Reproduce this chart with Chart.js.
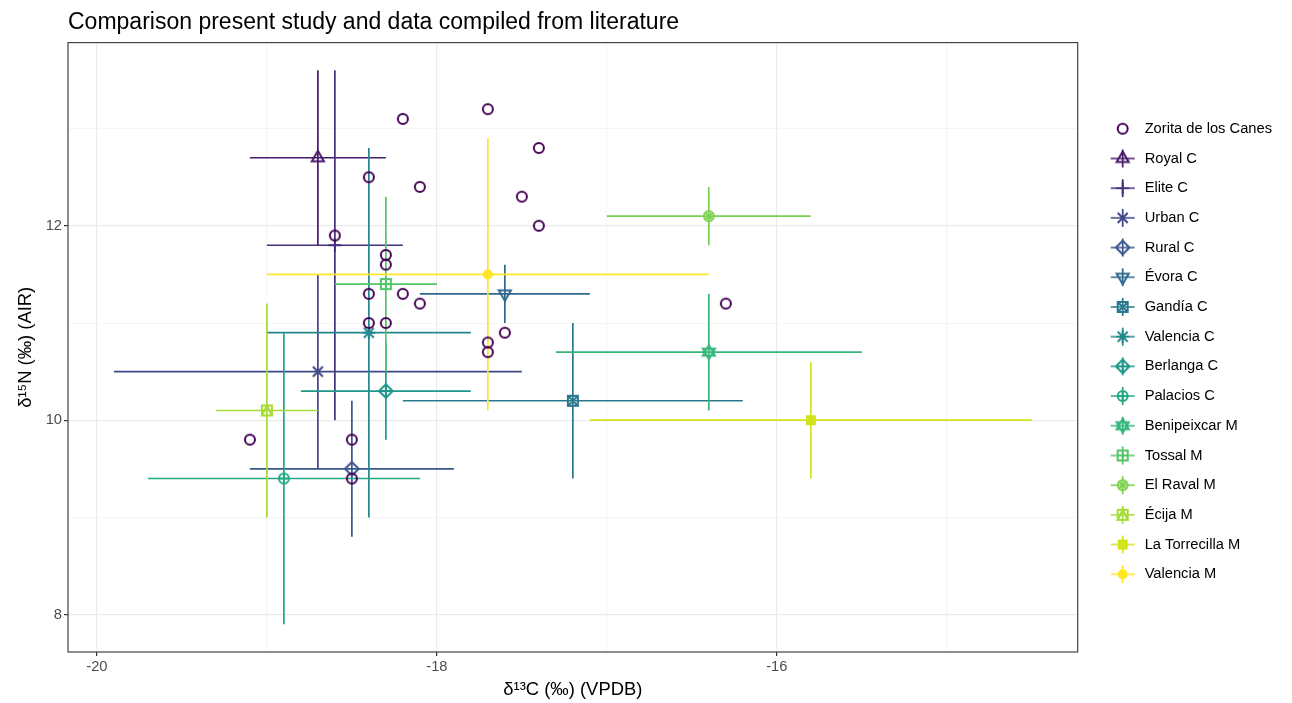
<!DOCTYPE html>
<html>
<head>
<meta charset="utf-8">
<script src="https://cdn.jsdelivr.net/npm/chart.js@4.4.1/dist/chart.umd.min.js"></script>
<style>
	html, body { margin: 0; padding: 0; background: #fff; }
</style>
</head>
<body>
<canvas id="chart-scatter" width="1292" height="703"></canvas>
<script>
// present study
const zoritaX = [-19.1, -18.6, -18.4, -18.2, -18.1, -17.7, -17.4, -17.5, -17.4, -18.3, -18.3,
	-18.4, -18.2, -18.1, -18.4, -18.3, -17.6, -17.7, -17.7, -16.3, -18.5, -18.5];
const zoritaY = [9.8, 11.9, 12.5, 13.1, 12.4, 13.2, 12.8, 12.3, 12.0, 11.7, 11.6,
	11.3, 11.3, 11.2, 11.0, 11.0, 10.9, 10.8, 10.7, 11.2, 9.8, 9.4];

// literature (mean +- sd)
const groupNames = ["Royal C", "Elite C", "Urban C", "Rural C", "Évora C", "Gandía C",
	"Valencia C", "Berlanga C", "Palacios C", "Benipeixcar M", "Tossal M", "El Raval M",
	"Écija M", "La Torrecilla M", "Valencia M"];
const groupX = [-18.7, -18.6, -18.7, -18.5, -17.6, -17.2, -18.4, -18.3, -18.9, -16.4, -18.3, -16.4, -19.0, -15.8, -17.7];
const groupY = [12.7, 11.8, 10.5, 9.5, 11.3, 10.2, 10.9, 10.3, 9.4, 10.7, 11.4, 12.1, 10.1, 10.0, 11.5];
const groupSdX = [0.4, 0.4, 1.2, 0.6, 0.5, 1.0, 0.6, 0.5, 0.8, 0.9, 0.3, 0.6, 0.3, 1.3, 1.3];
const groupSdY = [0.9, 1.8, 1.0, 0.7, 0.3, 0.8, 1.9, 0.5, 1.5, 0.6, 0.9, 0.3, 1.1, 0.6, 1.4];

const xTicks = [-20, -19, -18, -17, -16, -15];
const yTicks = [8, 9, 10, 11, 12, 13];

// viridis(16) and ggplot shapes 1..16
const colors = ["#440154", "#481A6C", "#472F7D", "#414487", "#39568C", "#31688E", "#2A788E", "#23888E",
	"#1F988B", "#22A884", "#35B779", "#54C568", "#7AD151", "#A5DB36", "#D2E21B", "#FDE725"];
const shapes = ["circle", "triangle", "plus", "x", "diamond", "triangleDown", "squareX", "asterisk",
	"diamondPlus", "circlePlus", "star6", "squarePlus", "circleX", "squareTri", "squareFill", "circleFill"];

const FONT = "'Liberation Sans', Arial, sans-serif";

function drawShape(c, shape, cx, cy) {
	const r = 5;
	const line = (x1, y1, x2, y2) => { c.moveTo(x1, y1); c.lineTo(x2, y2); };
	const poly = (pts) => {
		c.moveTo(pts[0][0], pts[0][1]);
		pts.slice(1).forEach((p) => c.lineTo(p[0], p[1]));
		c.closePath();
	};
	const tri = (dir) => {
		const R = 7;
		poly([0, 1, 2].map((k) => {
			const a = (dir > 0 ? -Math.PI / 2 : Math.PI / 2) + (k * 2 * Math.PI) / 3;
			return [cx + R * Math.cos(a), cy + R * Math.sin(a)];
		}));
	};
	const d = 6.8;
	c.beginPath();
	switch (shape) {
		case "circle": c.arc(cx, cy, r, 0, Math.PI * 2); break;
		case "triangle": tri(1); break;
		case "triangleDown": tri(-1); break;
		case "plus": line(cx - 6.5, cy, cx + 6.5, cy); line(cx, cy - 6.5, cx, cy + 6.5); break;
		case "x": line(cx - 5, cy - 5, cx + 5, cy + 5); line(cx - 5, cy + 5, cx + 5, cy - 5); break;
		case "asterisk":
			line(cx - 6.5, cy, cx + 6.5, cy); line(cx, cy - 6.5, cx, cy + 6.5);
			line(cx - 5, cy - 5, cx + 5, cy + 5); line(cx - 5, cy + 5, cx + 5, cy - 5);
			break;
		case "diamond": poly([[cx, cy - d], [cx + d, cy], [cx, cy + d], [cx - d, cy]]); break;
		case "diamondPlus":
			poly([[cx, cy - d], [cx + d, cy], [cx, cy + d], [cx - d, cy]]);
			line(cx - d, cy, cx + d, cy); line(cx, cy - d, cx, cy + d);
			break;
		case "squareX":
			c.rect(cx - r, cy - r, 2 * r, 2 * r);
			line(cx - r, cy - r, cx + r, cy + r); line(cx - r, cy + r, cx + r, cy - r);
			break;
		case "squarePlus":
			c.rect(cx - r, cy - r, 2 * r, 2 * r);
			line(cx - r, cy, cx + r, cy); line(cx, cy - r, cx, cy + r);
			break;
		case "squareTri":
			c.rect(cx - r, cy - r, 2 * r, 2 * r);
			poly([[cx, cy - r], [cx + r, cy + r], [cx - r, cy + r]]);
			break;
		case "circlePlus":
			c.arc(cx, cy, r, 0, Math.PI * 2);
			line(cx - r, cy, cx + r, cy); line(cx, cy - r, cx, cy + r);
			break;
		case "circleX": {
			const k = r * Math.SQRT1_2;
			c.arc(cx, cy, r, 0, Math.PI * 2);
			line(cx - k, cy - k, cx + k, cy + k); line(cx - k, cy + k, cx + k, cy - k);
			break;
		}
		case "star6": tri(1); tri(-1); break;
		case "squareFill": c.rect(cx - r, cy - r, 2 * r, 2 * r); c.fill(); return;
		case "circleFill": c.arc(cx, cy, r, 0, Math.PI * 2); c.fill(); return;
	}
	c.stroke();
}

function makeIcon(shape, color, w, h, dx, bars) {
	const cv = document.createElement("canvas");
	cv.width = w;
	cv.height = h;
	const c = cv.getContext("2d");
	const cx = w / 2 + dx, cy = h / 2;
	c.strokeStyle = color;
	c.fillStyle = color;
	if (bars) {
		c.lineWidth = 1.7;
		c.beginPath();
		c.moveTo(cx - 12, cy); c.lineTo(cx + 12, cy);
		c.moveTo(cx, cy - 9); c.lineTo(cx, cy + 9);
		c.stroke();
	}
	c.lineWidth = 2;
	drawShape(c, shape, cx, cy);
	return cv;
}

const pointIcons = shapes.map((s, i) => makeIcon(s, colors[i], 20, 20, 0, false));
const legendIcons = shapes.map((s, i) => makeIcon(s, colors[i], 42, 20, 7.7, i > 0));

const datasets = [{
	label: "Zorita de los Canes",
	data: zoritaX.map((x, i) => ({ x: x, y: zoritaY[i] })),
	pointStyle: pointIcons[0],
}];
groupNames.forEach((name, i) => {
	datasets.push({
		label: name,
		data: [{ x: groupX[i], y: groupY[i] }],
		pointStyle: pointIcons[i + 1],
	});
});

// mean +- sd bars, drawn under the markers
const errorBars = {
	id: "errorBars",
	beforeDatasetsDraw(chart) {
		const { ctx, scales: { x, y } } = chart;
		ctx.save();
		ctx.lineWidth = 1.7;
		groupNames.forEach((name, i) => {
			const px = x.getPixelForValue(groupX[i]);
			const py = y.getPixelForValue(groupY[i]);
			ctx.strokeStyle = colors[i + 1];
			ctx.beginPath();
			ctx.moveTo(x.getPixelForValue(groupX[i] - groupSdX[i]), py);
			ctx.lineTo(x.getPixelForValue(groupX[i] + groupSdX[i]), py);
			ctx.moveTo(px, y.getPixelForValue(groupY[i] + groupSdY[i]));
			ctx.lineTo(px, y.getPixelForValue(groupY[i] - groupSdY[i]));
			ctx.stroke();
		});
		ctx.restore();
	},
	afterDraw(chart) {
		const { ctx, chartArea: a } = chart;
		ctx.save();
		ctx.strokeStyle = "#444";
		ctx.lineWidth = 1.2;
		ctx.strokeRect(a.left, a.top, a.right - a.left, a.bottom - a.top);
		ctx.restore();
	},
};

const isMajor = (v) => Math.round(v) % 2 === 0;

const options = {
	responsive: false,
	animation: false,
	devicePixelRatio: 1,
	layout: { padding: { left: 0, top: 0, right: 10, bottom: 0 } },
	scales: {
		x: {
			type: "linear",
			min: -20.17,
			max: -14.23,
			afterBuildTicks: (scale) => { scale.ticks = xTicks.map((v) => ({ value: v })); },
			afterFit: (scale) => { scale.height = 51; },
			border: { display: false },
			grid: {
				color: (c) => (isMajor(c.tick.value) ? "#EBEBEB" : "#F3F3F3"),
				lineWidth: (c) => (isMajor(c.tick.value) ? 1.2 : 0.8),
				tickColor: (c) => (isMajor(c.tick.value) ? "#333" : "rgba(0,0,0,0)"),
				tickLength: 4,
				tickWidth: 1.2,
			},
			ticks: {
				callback: (v) => (isMajor(v) ? String(v) : ""),
				color: "#4D4D4D",
				font: { family: FONT, size: 14.7 },
				padding: 2,
				maxRotation: 0,
				autoSkip: false,
			},
			title: {
				display: true,
				text: "δ¹³C (‰) (VPDB)",
				color: "#000",
				font: { family: FONT, size: 18.4 },
				padding: { top: 0, bottom: 2 },
			},
		},
		y: {
			type: "linear",
			min: 7.615,
			max: 13.885,
			afterBuildTicks: (scale) => { scale.ticks = yTicks.map((v) => ({ value: v })); },
			afterFit: (scale) => { scale.width = 68; },
			border: { display: false },
			grid: {
				color: (c) => (isMajor(c.tick.value) ? "#EBEBEB" : "#F3F3F3"),
				lineWidth: (c) => (isMajor(c.tick.value) ? 1.2 : 0.8),
				tickColor: (c) => (isMajor(c.tick.value) ? "#333" : "rgba(0,0,0,0)"),
				tickLength: 4,
				tickWidth: 1.2,
			},
			ticks: {
				callback: (v) => (isMajor(v) ? String(v) : ""),
				color: "#4D4D4D",
				font: { family: FONT, size: 14.7 },
				padding: 2,
				autoSkip: false,
			},
			title: {
				display: true,
				text: "δ¹⁵N (‰) (AIR)",
				color: "#000",
				font: { family: FONT, size: 18.4 },
				padding: { top: 15, bottom: 0 },
			},
		},
	},
	plugins: {
		tooltip: { enabled: false },
		title: {
			display: true,
			text: "Comparison present study and data compiled from literature",
			align: "start",
			fullSize: false,
			color: "#000",
			font: { family: FONT, size: 23, weight: "normal" },
			padding: { top: 9, bottom: 6 },
		},
		legend: {
			position: "right",
			align: "center",
			labels: {
				usePointStyle: true,
				pointStyleWidth: 44.6,
				padding: 15,
				color: "#1A1A1A",
				font: { family: FONT, size: 14.7 },
				generateLabels: (chart) => chart.data.datasets.map((ds, i) => ({
					text: ds.label,
					pointStyle: legendIcons[i],
					fillStyle: "rgba(0,0,0,0)",
					strokeStyle: "rgba(0,0,0,0)",
					lineWidth: 0,
					hidden: false,
					datasetIndex: i,
				})),
			},
		},
	},
};

const config = {
	type: "scatter",
	data: { datasets: datasets },
	options: options,
	plugins: [errorBars],
};

new Chart(document.getElementById("chart-scatter"), config);
</script>
</body>
</html>
